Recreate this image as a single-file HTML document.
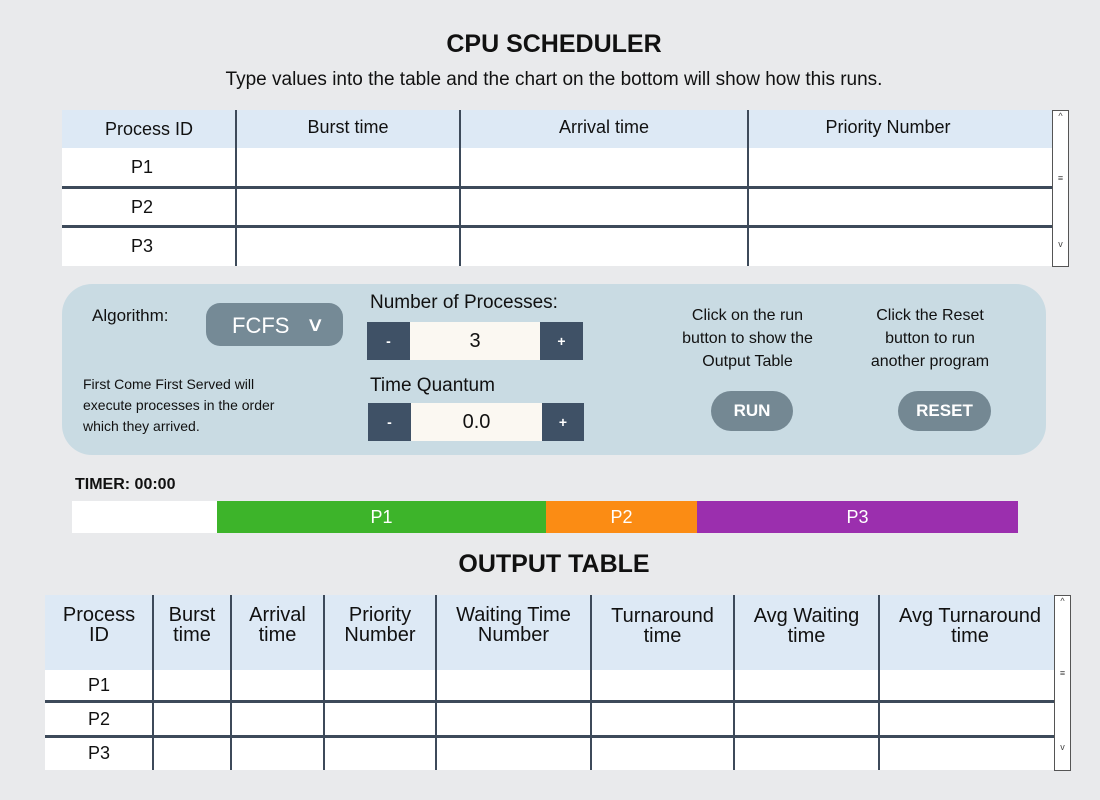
<!DOCTYPE html>
<html><head><style>
body{margin:0;width:1100px;height:800px;background:#e9eaec;font-family:"Liberation Sans",sans-serif;position:relative;overflow:hidden;color:#111}
.a{position:absolute}
.c{position:absolute;text-align:center}
.n{font-family:"Liberation Sans Narrow","Liberation Sans",sans-serif}
.vl{position:absolute;width:2px;background:#3d4a5a}
.hl{position:absolute;height:3px;background:#3d4a5a}
.btn{position:absolute;background:#3f5166;color:#fff;font-weight:bold;text-align:center}
.val{position:absolute;background:#fbf8f2;text-align:center;font-size:20px}
.sb{position:absolute;border:1px solid #555;background:#fff;font-size:9px;color:#444;text-align:center}
</style></head><body>
<div class="c" style="left:0;width:1108px;top:30px;font-size:25px;font-weight:bold">CPU SCHEDULER</div>
<div class="c" style="left:0;width:1108px;top:69px;font-size:19px">Type values into the table and the chart on the bottom will show how this runs.</div>

<div class="a" style="left:62px;top:110px;width:990px;height:156px;background:#fff"></div>
<div class="a" style="left:62px;top:110px;width:990px;height:38px;background:#dde9f5"></div>
<div class="vl" style="left:235px;top:110px;height:156px"></div>
<div class="vl" style="left:459px;top:110px;height:156px"></div>
<div class="vl" style="left:747px;top:110px;height:156px"></div>
<div class="hl" style="left:62px;top:186px;width:990px"></div>
<div class="hl" style="left:62px;top:225px;width:990px"></div>
<div class="c" style="left:62px;width:174px;top:119px;font-size:18px">Process ID</div>
<div class="c" style="left:236px;width:224px;top:117px;font-size:18px">Burst time</div>
<div class="c" style="left:460px;width:288px;top:117px;font-size:18px">Arrival time</div>
<div class="c" style="left:748px;width:280px;top:117px;font-size:18px">Priority Number</div>
<div class="c" style="left:62px;width:160px;top:157px;font-size:18px">P1</div>
<div class="c" style="left:62px;width:160px;top:197px;font-size:18px">P2</div>
<div class="c" style="left:62px;width:160px;top:236px;font-size:18px">P3</div>
<div class="sb" style="left:1052px;top:110px;width:15px;height:155px"><div style="margin-top:0">^</div><div style="margin-top:52px">≡</div><div style="margin-top:56px">v</div></div>

<div class="a" style="left:62px;top:284px;width:984px;height:171px;background:#c9dbe3;border-radius:30px"></div>
<div class="a" style="left:92px;top:306px;font-size:17px">Algorithm:</div>
<div class="a" style="left:206px;top:303px;width:137px;height:43px;background:#758a96;border-radius:14px;color:#fff;font-size:22px"><span style="position:absolute;left:26px;top:10px">FCFS</span><span style="position:absolute;left:102px;top:9px;font-size:20px;transform:scaleX(1.3)">&#8744;</span></div>
<div class="a" style="left:83px;top:374px;font-size:14px;line-height:21px">First Come First Served will<br>execute processes in the order<br>which they arrived.</div>
<div class="a" style="left:370px;top:292px;font-size:19px">Number of Processes:</div>
<div class="btn" style="left:367px;top:322px;width:43px;height:38px;line-height:38px;font-size:14px">-</div>
<div class="val" style="left:410px;top:322px;width:130px;height:38px;line-height:38px">3</div>
<div class="btn" style="left:540px;top:322px;width:43px;height:38px;line-height:38px;font-size:14px">+</div>
<div class="a" style="left:370px;top:375px;font-size:19px">Time Quantum</div>
<div class="btn" style="left:368px;top:403px;width:43px;height:38px;line-height:38px;font-size:14px">-</div>
<div class="val" style="left:411px;top:403px;width:131px;height:38px;line-height:38px">0.0</div>
<div class="btn" style="left:542px;top:403px;width:42px;height:38px;line-height:38px;font-size:14px">+</div>
<div class="c" style="left:650px;width:195px;top:304px;font-size:16px;line-height:23px">Click on the run<br>button to show the<br>Output Table</div>
<div class="c" style="left:840px;width:180px;top:304px;font-size:16px;line-height:23px">Click the Reset<br>button to run<br>another program</div>
<div class="c" style="left:711px;top:391px;width:82px;height:40px;line-height:40px;background:#748893;border-radius:20px;color:#fff;font-weight:bold;font-size:17px">RUN</div>
<div class="c" style="left:898px;top:391px;width:93px;height:40px;line-height:40px;background:#748893;border-radius:20px;color:#fff;font-weight:bold;font-size:17px">RESET</div>

<div class="a" style="left:75px;top:476px;font-size:16px;font-weight:bold">TIMER: 00:00</div>
<div class="a" style="left:72px;top:501px;width:145px;height:32px;background:#fff"></div>
<div class="c" style="left:217px;top:501px;width:329px;height:32px;line-height:32px;background:#3db42a;color:#fff;font-size:18px">P1</div>
<div class="c" style="left:546px;top:501px;width:151px;height:32px;line-height:32px;background:#fb8c14;color:#fff;font-size:18px">P2</div>
<div class="c" style="left:697px;top:501px;width:321px;height:32px;line-height:32px;background:#9b2fae;color:#fff;font-size:18px">P3</div>

<div class="c" style="left:0;width:1108px;top:550px;font-size:25px;font-weight:bold">OUTPUT TABLE</div>

<div class="a" style="left:45px;top:595px;width:1009px;height:175px;background:#fff"></div>
<div class="a" style="left:45px;top:595px;width:1009px;height:75px;background:#dde9f5"></div>
<div class="vl" style="left:152px;top:595px;height:175px"></div>
<div class="vl" style="left:230px;top:595px;height:175px"></div>
<div class="vl" style="left:323px;top:595px;height:175px"></div>
<div class="vl" style="left:435px;top:595px;height:175px"></div>
<div class="vl" style="left:590px;top:595px;height:175px"></div>
<div class="vl" style="left:733px;top:595px;height:175px"></div>
<div class="vl" style="left:878px;top:595px;height:175px"></div>
<div class="hl" style="left:45px;top:700px;width:1009px"></div>
<div class="hl" style="left:45px;top:735px;width:1009px"></div>
<div class="c n" style="left:45px;width:108px;top:605px;font-size:20px;line-height:20px">Process<br>ID</div>
<div class="c n" style="left:153px;width:78px;top:605px;font-size:20px;line-height:20px">Burst<br>time</div>
<div class="c n" style="left:231px;width:93px;top:605px;font-size:20px;line-height:20px">Arrival<br>time</div>
<div class="c n" style="left:324px;width:112px;top:605px;font-size:20px;line-height:20px">Priority<br>Number</div>
<div class="c n" style="left:436px;width:155px;top:605px;font-size:20px;line-height:20px">Waiting Time<br>Number</div>
<div class="c n" style="left:591px;width:143px;top:606px;font-size:20px;line-height:20px">Turnaround<br>time</div>
<div class="c n" style="left:734px;width:145px;top:606px;font-size:20px;line-height:20px">Avg Waiting<br>time</div>
<div class="c n" style="left:879px;width:182px;top:606px;font-size:20px;line-height:20px">Avg Turnaround<br>time</div>
<div class="c" style="left:45px;width:108px;top:675px;font-size:18px">P1</div>
<div class="c" style="left:45px;width:108px;top:709px;font-size:18px">P2</div>
<div class="c" style="left:45px;width:108px;top:743px;font-size:18px">P3</div>
<div class="sb" style="left:1054px;top:595px;width:15px;height:174px"><div style="margin-top:0">^</div><div style="margin-top:62px">≡</div><div style="margin-top:64px">v</div></div>
</body></html>
